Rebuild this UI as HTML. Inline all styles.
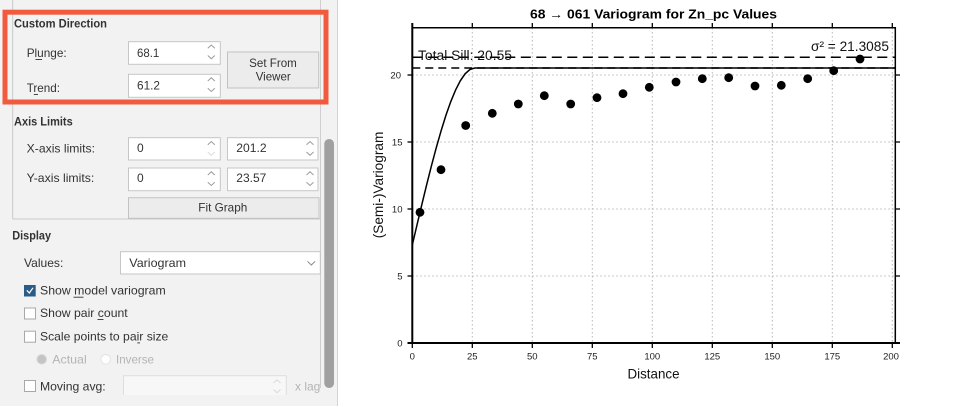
<!DOCTYPE html>
<html><head><meta charset="utf-8"><style>
html,body{margin:0;padding:0;background:#fff;}
svg{display:block;}
text{font-family:"Liberation Sans",Arial,sans-serif;}
</style></head><body>
<svg width="955" height="406" viewBox="0 0 955 406" xmlns="http://www.w3.org/2000/svg">
<rect x="0" y="0" width="955" height="406" fill="#ffffff"/>
<!-- left panel -->
<rect x="0" y="0" width="337" height="406" fill="#f2f2f2"/>
<line x1="337.5" y1="0" x2="337.5" y2="406" stroke="#d4d4d4" stroke-width="1"/>
<!-- group box borders -->
<line x1="12.7" y1="0" x2="12.7" y2="219" stroke="#c9c9c9" stroke-width="1"/>
<line x1="12.7" y1="219" x2="320" y2="219" stroke="#c9c9c9" stroke-width="1"/>
<line x1="320.5" y1="0" x2="320.5" y2="395" stroke="#cfcfcf" stroke-width="1"/>
<!-- scrollbar -->
<rect x="324.3" y="139" width="9.7" height="249" rx="4.8" fill="#a0a0a0"/>

<g font-size="12" fill="#333">
<text x="14" y="27.3" font-weight="bold" textLength="93" lengthAdjust="spacingAndGlyphs">Custom Direction</text>
<text x="26.7" y="57" textLength="40" lengthAdjust="spacingAndGlyphs">Plunge:</text>
<line x1="35.5" y1="59.5" x2="42" y2="59.5" stroke="#333" stroke-width="0.9"/>
<text x="26.7" y="92" textLength="33.3" lengthAdjust="spacingAndGlyphs">Trend:</text>
<line x1="33.8" y1="94.5" x2="38" y2="94.5" stroke="#333" stroke-width="0.9"/>
<text x="14" y="125.7" font-weight="bold" textLength="58.7" lengthAdjust="spacingAndGlyphs">Axis Limits</text>
<text x="26.7" y="152.7" textLength="68.3" lengthAdjust="spacingAndGlyphs">X-axis limits:</text>
<text x="26.7" y="182" textLength="67.6" lengthAdjust="spacingAndGlyphs">Y-axis limits:</text>
<text x="12.3" y="239.4" font-weight="bold" textLength="38.7" lengthAdjust="spacingAndGlyphs">Display</text>
<text x="24" y="267" textLength="39.3" lengthAdjust="spacingAndGlyphs">Values:</text>
</g>

<!-- spin boxes -->
<g stroke="#c6c6c6" stroke-width="1" fill="#ffffff">
<rect x="128.5" y="41.7" width="91.8" height="22.6"/>
<rect x="128.5" y="74.3" width="91.8" height="23"/>
<rect x="128.5" y="137.7" width="91.8" height="22.3"/>
<rect x="227.5" y="137.7" width="90.5" height="22.3"/>
<rect x="128.5" y="168" width="91.8" height="22.7"/>
<rect x="227.5" y="168" width="90.5" height="22.7"/>
<rect x="120.5" y="251.7" width="199.8" height="22.3"/>
</g>
<!-- buttons -->
<rect x="227.5" y="52" width="91.2" height="36" fill="#ececec" stroke="#c2c2c2" stroke-width="1"/>
<rect x="128.5" y="197.7" width="190.5" height="20.6" fill="#ececec" stroke="#c2c2c2" stroke-width="1"/>

<g font-size="12" fill="#333">
<text x="137" y="57" textLength="22.3" lengthAdjust="spacingAndGlyphs">68.1</text>
<text x="137" y="89.7" textLength="23" lengthAdjust="spacingAndGlyphs">61.2</text>
<text x="137" y="152">0</text>
<text x="236.3" y="152" textLength="30.3" lengthAdjust="spacingAndGlyphs">201.2</text>
<text x="137" y="182">0</text>
<text x="236.3" y="182" textLength="30" lengthAdjust="spacingAndGlyphs">23.57</text>
<text x="273" y="67" text-anchor="middle" textLength="47.7" lengthAdjust="spacingAndGlyphs">Set From</text>
<text x="273.2" y="80.4" text-anchor="middle" textLength="35" lengthAdjust="spacingAndGlyphs">Viewer</text>
<text x="222.8" y="211.4" text-anchor="middle" textLength="49" lengthAdjust="spacingAndGlyphs">Fit Graph</text>
<text x="129.3" y="267" textLength="56.7" lengthAdjust="spacingAndGlyphs">Variogram</text>
</g>
<!-- spinner chevrons -->
<g fill="none" stroke="#9c9c9c" stroke-width="1">
<polyline points="207.8,48.3 211.3,45 214.8,48.3"/><polyline points="207.8,55.5 211.3,58.8 214.8,55.5"/>
<polyline points="207.8,81 211.3,77.7 214.8,81"/><polyline points="207.8,88.2 211.3,91.5 214.8,88.2"/>
<polyline points="207.8,144.8 211.3,141.5 214.8,144.8"/>
<polyline points="207.8,152 211.3,155.3 214.8,152" stroke="#dcdcdc"/>
<polyline points="306.5,144.8 310,141.5 313.5,144.8"/><polyline points="306.5,152 310,155.3 313.5,152"/>
<polyline points="207.8,175 211.3,171.7 214.8,175"/><polyline points="207.8,182.2 211.3,185.5 214.8,182.2"/>
<polyline points="306.5,175 310,171.7 313.5,175"/><polyline points="306.5,182.2 310,185.5 313.5,182.2"/>
<polyline points="307.5,261.3 311.3,265 315.1,261.3" stroke="#8a8a8a"/>
</g>

<!-- checkboxes -->
<rect x="24" y="285" width="11.7" height="11.5" fill="#2b5c87"/>
<polyline points="26.8,290.3 29.3,293 33,287.8" fill="none" stroke="#ffffff" stroke-width="1.2"/>
<rect x="24.5" y="308" width="11" height="11" fill="#ffffff" stroke="#a8a8a8" stroke-width="1"/>
<rect x="24.5" y="331.2" width="11" height="11" fill="#ffffff" stroke="#a8a8a8" stroke-width="1"/>
<rect x="24.5" y="380.5" width="11" height="11" fill="#ffffff" stroke="#a8a8a8" stroke-width="1"/>
<g font-size="12" fill="#333">
<text x="40" y="294.7" textLength="125.7" lengthAdjust="spacingAndGlyphs">Show model variogram</text>
<text x="40" y="317" textLength="87.7" lengthAdjust="spacingAndGlyphs">Show pair count</text>
<text x="40" y="340.4" textLength="128.3" lengthAdjust="spacingAndGlyphs">Scale points to pair size</text>
<text x="40" y="390.4" textLength="65.7" lengthAdjust="spacingAndGlyphs">Moving avg:</text>
</g>
<g stroke="#333" stroke-width="0.9">
<line x1="73.5" y1="297.2" x2="83.5" y2="297.2"/>
<line x1="97.5" y1="319.5" x2="103.5" y2="319.5"/>
<line x1="137.3" y1="342.9" x2="140" y2="342.9"/>
</g>
<!-- radios -->
<circle cx="41.7" cy="359.3" r="4.8" fill="#c4c4c4" stroke="#dadada" stroke-width="1"/>
<circle cx="105.7" cy="359.3" r="4.8" fill="#ffffff" stroke="#e2e2e2" stroke-width="1"/>
<g font-size="12" fill="#b4b4b4">
<text x="52.3" y="363.7" textLength="34.4" lengthAdjust="spacingAndGlyphs">Actual</text>
<text x="116" y="363.7" textLength="38" lengthAdjust="spacingAndGlyphs">Inverse</text>
<text x="295" y="390.4">x lag</text>
</g>
<rect x="123.5" y="375.7" width="162.8" height="26" fill="#f7f7f7" stroke="#dedede" stroke-width="1"/>
<g fill="none" stroke="#dadada" stroke-width="1">
<polyline points="273.5,383 277,379.7 280.5,383"/><polyline points="273.5,389.5 277,392.8 280.5,389.5"/>
</g>
<rect x="0" y="395" width="320" height="11" fill="#f2f2f2"/>
<rect x="320" y="388" width="4" height="18" fill="#f2f2f2"/>

<!-- red highlight -->
<rect x="5" y="12.2" width="321" height="89.8" fill="none" stroke="#f25a3e" stroke-width="5"/>

<!-- ===== CHART ===== -->
<!-- grid -->
<g stroke="#b8b8b8" stroke-width="1" stroke-dasharray="1.5,2.5">
<line x1="472.3" y1="28" x2="472.3" y2="343"/>
<line x1="532.3" y1="28" x2="532.3" y2="343"/>
<line x1="592.3" y1="28" x2="592.3" y2="343"/>
<line x1="652.3" y1="28" x2="652.3" y2="343"/>
<line x1="712.3" y1="28" x2="712.3" y2="343"/>
<line x1="772.3" y1="28" x2="772.3" y2="343"/>
<line x1="832.3" y1="28" x2="832.3" y2="343"/>
<line x1="892.3" y1="28" x2="892.3" y2="343"/>
<line x1="412.3" y1="276" x2="895.3" y2="276"/>
<line x1="412.3" y1="209" x2="895.3" y2="209"/>
<line x1="412.3" y1="142" x2="895.3" y2="142"/>
<line x1="412.3" y1="75" x2="895.3" y2="75"/>
</g>

<!-- dashed lines -->
<line x1="412.3" y1="57.3" x2="895.3" y2="57.3" stroke="#000" stroke-width="1.5" stroke-dasharray="10,5.5"/>
<line x1="412.3" y1="68" x2="895.3" y2="68" stroke="#000" stroke-width="1.5" stroke-dasharray="8,5"/>

<!-- model curve -->
<path d="M412.3,245 L417.1,224.5 L421.9,204.3 L426.7,184.6 L431.5,165.6 L436.3,147.6 L441.1,130.8 L445.9,115.4 L450.7,101.8 L455.5,90.2 L460.3,80.8 L465.1,73.8 L469.9,69.6 L474.7,68 L895.3,68" fill="none" stroke="#000" stroke-width="1.5"/>

<!-- points -->
<g fill="#000">
<circle cx="420" cy="212.3" r="4.4"/>
<circle cx="441" cy="169.7" r="4.4"/>
<circle cx="465.7" cy="125.5" r="4.4"/>
<circle cx="492.3" cy="113.3" r="4.4"/>
<circle cx="518.3" cy="104" r="4.4"/>
<circle cx="544.3" cy="95.7" r="4.4"/>
<circle cx="570.7" cy="104" r="4.4"/>
<circle cx="597" cy="97.7" r="4.4"/>
<circle cx="623" cy="93.7" r="4.4"/>
<circle cx="649.3" cy="87.3" r="4.4"/>
<circle cx="676" cy="82" r="4.4"/>
<circle cx="702.3" cy="78.7" r="4.4"/>
<circle cx="728.7" cy="77.7" r="4.4"/>
<circle cx="755" cy="86" r="4.4"/>
<circle cx="781.3" cy="85.3" r="4.4"/>
<circle cx="807.7" cy="78.7" r="4.4"/>
<circle cx="833.7" cy="70.7" r="4.4"/>
<circle cx="860" cy="59" r="4.4"/>
</g>

<!-- axes frame -->
<g stroke="#000" fill="none">
<line x1="412.3" y1="23" x2="412.3" y2="344" stroke-width="2"/>
<line x1="407.5" y1="343" x2="900" y2="343" stroke-width="2"/>
<line x1="412.3" y1="27.7" x2="895.3" y2="27.7" stroke-width="1.5"/>
<line x1="895.3" y1="27" x2="895.3" y2="343" stroke-width="1.5"/>
</g>
<g stroke="#000" stroke-width="1.3">
<!-- top ticks -->
<line x1="472.3" y1="23" x2="472.3" y2="27.7"/><line x1="532.3" y1="23" x2="532.3" y2="27.7"/>
<line x1="592.3" y1="23" x2="592.3" y2="27.7"/><line x1="652.3" y1="23" x2="652.3" y2="27.7"/>
<line x1="712.3" y1="23" x2="712.3" y2="27.7"/><line x1="772.3" y1="23" x2="772.3" y2="27.7"/>
<line x1="832.3" y1="23" x2="832.3" y2="27.7"/><line x1="892.3" y1="23" x2="892.3" y2="27.7"/>
<!-- bottom ticks -->
<line x1="412.3" y1="343" x2="412.3" y2="348"/><line x1="472.3" y1="343" x2="472.3" y2="348"/>
<line x1="532.3" y1="343" x2="532.3" y2="348"/><line x1="592.3" y1="343" x2="592.3" y2="348"/>
<line x1="652.3" y1="343" x2="652.3" y2="348"/><line x1="712.3" y1="343" x2="712.3" y2="348"/>
<line x1="772.3" y1="343" x2="772.3" y2="348"/><line x1="832.3" y1="343" x2="832.3" y2="348"/>
<line x1="892.3" y1="343" x2="892.3" y2="348"/>
<!-- left ticks -->
<line x1="407.5" y1="276" x2="412.3" y2="276"/><line x1="407.5" y1="209" x2="412.3" y2="209"/>
<line x1="407.5" y1="142" x2="412.3" y2="142"/><line x1="407.5" y1="75" x2="412.3" y2="75"/>
<!-- right ticks -->
<line x1="895.3" y1="276" x2="900" y2="276"/><line x1="895.3" y1="209" x2="900" y2="209"/>
<line x1="895.3" y1="142" x2="900" y2="142"/><line x1="895.3" y1="75" x2="900" y2="75"/>
</g>

<!-- tick labels -->
<g font-size="9.5" fill="#222" text-anchor="middle">
<text x="412.3" y="359.5">0</text>
<text x="472.3" y="359.5">25</text>
<text x="532.3" y="359.5">50</text>
<text x="592.3" y="359.5">75</text>
<text x="652.3" y="359.5">100</text>
<text x="712.3" y="359.5">125</text>
<text x="772.3" y="359.5">150</text>
<text x="832.3" y="359.5">175</text>
<text x="891" y="359.5">200</text>
</g>
<g font-size="9.5" fill="#222" text-anchor="end">
<text x="402.5" y="346.5">0</text>
<text x="402.5" y="279.5">5</text>
<text x="402.5" y="212.5">10</text>
<text x="402.5" y="145.5">15</text>
<text x="401" y="78.5">20</text>
</g>

<!-- annotations -->
<text x="418" y="60" font-size="13.5" fill="#111" textLength="94" lengthAdjust="spacingAndGlyphs">Total Sill: 20.55</text>
<text x="889" y="51" font-size="13.5" fill="#111" text-anchor="end" textLength="78" lengthAdjust="spacingAndGlyphs">σ² = 21.3085</text>

<!-- titles -->
<text x="653.5" y="18.3" font-size="12.5" font-weight="bold" fill="#000" text-anchor="middle" textLength="247" lengthAdjust="spacingAndGlyphs">68 → 061 Variogram for Zn_pc Values</text>
<text x="653.5" y="378.5" font-size="14" fill="#111" text-anchor="middle" textLength="52" lengthAdjust="spacingAndGlyphs">Distance</text>
<text transform="translate(383,185) rotate(-90)" font-size="13.5" fill="#111" text-anchor="middle" textLength="106.6" lengthAdjust="spacingAndGlyphs">(Semi-)Variogram</text>
</svg>
</body></html>
